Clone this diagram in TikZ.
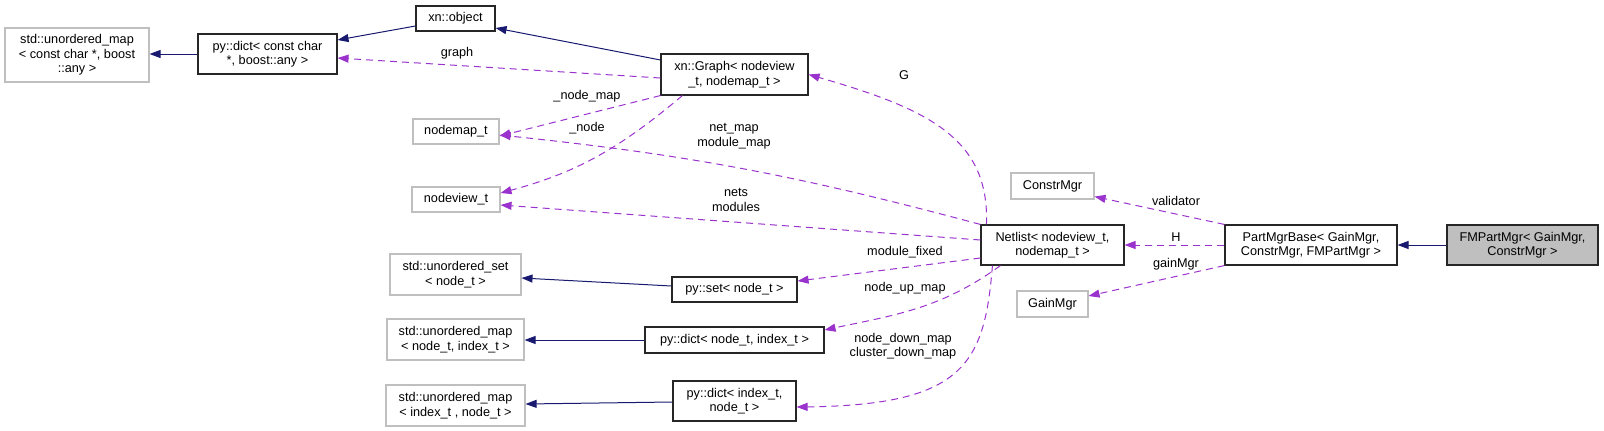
\documentclass[tikz,border=0pt]{standalone}
\usepackage{fontspec}
\setmainfont{Liberation Sans}
\usetikzlibrary{positioning, arrows.meta}
\definecolor{inhblue}{HTML}{191970}
\definecolor{mempurple}{HTML}{9A32CD}
\definecolor{extgray}{HTML}{BFBFBF}
\newcommand{\dgfont}{\fontsize{12.7pt}{14.5pt}\selectfont}

\begin{document}
\begin{tikzpicture}[
    x=1pt, y=-1pt,
    cls/.style={draw=black!85, line width=1.1pt, rectangle, align=center, font=\dgfont, inner sep=0pt, minimum height=25pt},
    extcls/.style={cls, draw=extgray},
    twoline/.style={minimum height=40pt},
    inharr/.style={-{Triangle[length=11pt,width=8pt]}, draw=inhblue, line width=1pt},
    memarr/.style={-{Triangle[length=11pt,width=8pt]}, draw=mempurple, line width=1pt, dash pattern=on 7pt off 5pt},
    elabel/.style={font=\dgfont, align=center, inner sep=0pt, text=black}
]
    \useasboundingbox (0,0) rectangle (1604,431);

    % classes
    \node[cls, twoline, fill=extgray, minimum width=151pt] (fmpart) at (1522.5,245) {FMPartMgr< GainMgr,\\ConstrMgr >};
    \node[cls, twoline, minimum width=172pt] (partbase) at (1311,245) {PartMgrBase< GainMgr,\\ConstrMgr, FMPartMgr >};
    \node[cls, twoline, minimum width=143pt] (netlist) at (1052.5,245) {Netlist< nodeview\_t,\\nodemap\_t >};
    \node[extcls, minimum width=83pt, minimum height=26pt] (constrmgr) at (1052.5,186) {ConstrMgr};
    \node[extcls, minimum width=71pt, minimum height=26pt] (gainmgr) at (1052.5,304) {GainMgr};
    \node[cls, twoline, minimum width=147pt, minimum height=41pt] (xngraph) at (734.5,74.5) {xn::Graph< nodeview\\\_t, nodemap\_t >};
    \node[cls, minimum width=79pt] (xnobject) at (455.5,18.5) {xn::object};
    \node[cls, twoline, minimum width=139pt] (pydictcc) at (267.5,54) {py::dict< const char\\{}*, boost::any >};
    \node[extcls, minimum width=144pt, minimum height=54pt] (umapcc) at (77,55) {std::unordered\_map\\< const char *, boost\\::any >};
    \node[extcls, minimum width=86pt] (nodemap) at (456,131.5) {nodemap\_t};
    \node[extcls, minimum width=88pt] (nodeview) at (456,199.5) {nodeview\_t};
    \node[cls, minimum width=125pt] (pyset) at (734.5,289.5) {py::set< node\_t >};
    \node[cls, minimum width=179pt, minimum height=26pt] (pydictni) at (734.5,340) {py::dict< node\_t, index\_t >};
    \node[cls, twoline, minimum width=123pt] (pydictin) at (734.5,401) {py::dict< index\_t,\\node\_t >};
    \node[extcls, twoline, minimum width=131pt, minimum height=41pt] (uset) at (455.5,274.5) {std::unordered\_set\\< node\_t >};
    \node[extcls, twoline, minimum width=137pt, minimum height=41pt] (umapni) at (455.5,339.5) {std::unordered\_map\\< node\_t, index\_t >};
    \node[extcls, twoline, minimum width=139pt, minimum height=41pt] (umapin) at (455.5,405.5) {std::unordered\_map\\< index\_t , node\_t >};

    % inheritance
    \draw[inharr] (fmpart) -- (partbase);
    \draw[inharr] (pydictcc.west) -- (pydictcc.west -| umapcc.east);
    \draw[inharr] ([yshift=-7.5pt]xnobject.west) -- ([yshift=14pt]pydictcc.east);
    \draw[inharr] ([yshift=14.5pt]xngraph.west) -- ([yshift=-9.5pt]xnobject.east);
    \draw[inharr] ([yshift=3.5pt]pyset.west) -- ([yshift=-3.5pt]uset.east);
    \draw[inharr] (pydictni.west) -- (pydictni.west -| umapni.east);
    \draw[inharr] ([yshift=-1pt]pydictin.west) -- ([yshift=1.5pt]umapin.east);

    % members
    \draw[memarr] (partbase.north west) -- ([yshift=3pt]constrmgr.south east) node[elabel] (lvalid) at (1176,201) {validator};
    \draw[memarr] (partbase) -- (netlist) node[elabel] (lh) at (1176,237) {H};
    \draw[memarr] (partbase.south west) -- ([yshift=8pt]gainmgr.east) node[elabel] (lgain) at (1176,264) {gainMgr};
    \draw[memarr] ([xshift=6pt]netlist.north west) .. controls +(3,-85) and +(122,35) .. (xngraph.east) node[elabel] (lg) at (904,75) {G};
    \draw[memarr] (netlist.north west) to[out=165, in=-6] ([yshift=-3.5pt]nodemap.east) node[elabel] (lnetmap) at (734,136) {net\_map\\module\_map};
    \draw[memarr] ([yshift=5pt]netlist.west) -- ([yshift=-5.5pt]nodeview.east) node[elabel] (lnets) at (736,200) {nets\\modules};
    \draw[memarr] ([yshift=-13pt]netlist.west) -- ([yshift=8.5pt]pyset.east) node[elabel] (lfixed) at (905,252) {module\_fixed};
    \draw[memarr] ([xshift=20pt]netlist.south west) to[out=216, in=12] ([yshift=10pt]pydictni.east) node[elabel] (lup) at (905,288) {node\_up\_map};
    \draw[memarr] ([xshift=12pt]netlist.south west) .. controls +(-8,98) and +(168,-2) .. ([yshift=-6pt]pydictin.east) node[elabel] (ldown) at (903,346) {node\_down\_map\\cluster\_down\_map};
    \draw[memarr] ([yshift=-3.5pt]xngraph.west) -- ([yshift=-4pt]pydictcc.east) node[elabel] (lgraph) at (457,53) {graph};
    \draw[memarr] (xngraph.south west) -- ([yshift=-4.5pt]nodemap.east) node[elabel] (lnodemap) at (587,96) {\_node\_map};
    \draw[memarr] ([xshift=22pt]xngraph.south west) to[out=220, in=15] ([yshift=6.5pt]nodeview.east) node[elabel] (lnode) at (587,128) {\_node};
\end{tikzpicture}
\end{document}
